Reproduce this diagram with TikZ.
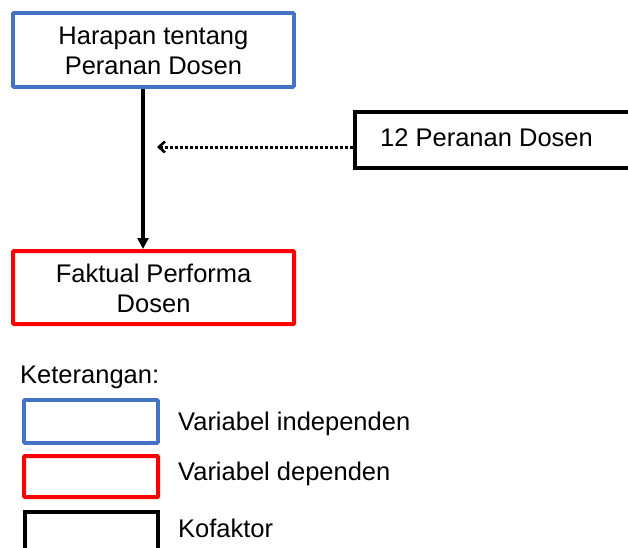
\documentclass[tikz,border=0pt]{standalone}
\usepackage{fontspec}
\setmainfont{Liberation Sans}
\usetikzlibrary{arrows.meta}
\definecolor{myblue}{HTML}{4472C4}
\begin{document}
\begin{tikzpicture}[x=1pt,y=-1pt,
  txt/.style={font=\fontsize{25.5}{30}\selectfont, inner sep=0pt, align=center},
  boxblue/.style={draw=myblue, line width=3.8pt, rounded corners=1pt},
  boxred/.style={draw=red, line width=4.2pt, rounded corners=1pt},
  boxblack/.style={draw=black, line width=4.2pt},
  lbl/.style={txt, anchor=west}]
\useasboundingbox (0,0) rectangle (628,547);
\clip (0,0) rectangle (628,547);
% main boxes
\node[boxblue, minimum width=281pt, minimum height=74pt, anchor=north west, inner sep=0pt] (hp) at (11,11) {};
\node[txt] (hpt) at ([yshift=-1pt]hp.center) {Harapan tentang\\Peranan Dosen};
\node[boxred, minimum width=281pt, minimum height=73pt, anchor=north west, inner sep=0pt] (fp) at (11,249) {};
\node[txt] (fpt) at ([yshift=-1pt]fp.center) {Faktual Performa\\Dosen};
\node[boxblack, minimum width=290pt, minimum height=56pt, anchor=north west, inner sep=0pt] (pd) at (353,110) {};
\node[txt, anchor=west] (pdt) at (380,138) {12 Peranan Dosen};
% connectors
\draw[line width=3.2pt, -{Triangle[length=11pt,width=11pt]}] (hp.south -| 143,0) -- (fp.north -| 143,0);
\coordinate (tip) at (157,147);
\draw[line width=3pt, dotted, -{Straight Barb[length=6pt,width=11pt,line width=2.6pt]}] (pd.west |- tip) -- (tip);
% legend
\node[lbl] (ket) at (20,377) {Keterangan:};
\node[boxblue, minimum width=134pt, minimum height=43pt, anchor=north west, inner sep=0pt] (lb) at (22,398) {};
\node[boxred, minimum width=134pt, minimum height=41pt, anchor=north west, inner sep=0pt] (lr) at (22,454) {};
\node[boxblack, minimum width=133pt, minimum height=41pt, anchor=north west, inner sep=0pt] (lk) at (23,510) {};
\node[lbl] (lbt) at (178,424) {Variabel independen};
\node[lbl] (lrt) at (178,474) {Variabel dependen};
\node[lbl] (lkt) at (178,528) {Kofaktor};
\end{tikzpicture}
\end{document}
